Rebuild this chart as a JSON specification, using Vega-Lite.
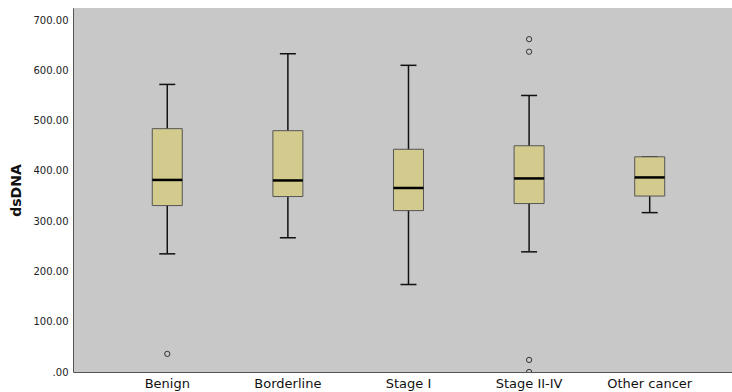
{
  "$schema": "https://vega.github.io/schema/vega-lite/v6.json",
  "width": 659,
  "height": 364,
  "autosize": {"type": "none"},
  "padding": {"left": 73, "top": 8, "right": 0, "bottom": 20},
  "background": "white",
  "config": {
    "view": {"fill": "#c8c8c8", "stroke": null},
    "font": "DejaVu Sans"
  },
  "datasets": {
    "stats": [
      {"group": "Benign", "low": 235, "q1": 331, "median": 382, "q3": 484, "high": 572},
      {"group": "Borderline", "low": 267, "q1": 349, "median": 381, "q3": 480, "high": 633},
      {"group": "Stage I", "low": 174, "q1": 321, "median": 366, "q3": 443, "high": 610},
      {"group": "Stage II-IV", "low": 239, "q1": 335, "median": 385, "q3": 450, "high": 550},
      {"group": "Other cancer", "low": 317, "q1": 350, "median": 387, "q3": 428, "high": 428}
    ],
    "outliers": [
      {"group": "Benign", "value": 36},
      {"group": "Stage II-IV", "value": 662},
      {"group": "Stage II-IV", "value": 637},
      {"group": "Stage II-IV", "value": 24},
      {"group": "Stage II-IV", "value": 0}
    ]
  },
  "encoding": {
    "x": {
      "field": "group",
      "type": "nominal",
      "sort": ["Benign", "Borderline", "Stage I", "Stage II-IV", "Other cancer"],
      "scale": {"type": "band", "paddingInner": 0, "paddingOuter": 0.232, "align": 0.607},
      "axis": {
        "title": null,
        "labelAngle": 0,
        "ticks": false,
        "labelFontSize": 13,
        "labelColor": "#111111",
        "labelPadding": 5,
        "domainColor": "#555555",
        "domainWidth": 1,
        "grid": false
      }
    }
  },
  "layer": [
    {
      "data": {"name": "stats"},
      "mark": {"type": "rule", "color": "#111111", "strokeWidth": 1.5, "opacity": 1},
      "encoding": {
        "y": {
          "field": "low",
          "type": "quantitative",
          "scale": {"domain": [0, 724], "nice": false, "zero": true},
          "axis": {
            "title": "dsDNA",
            "titleFontSize": 14,
            "titleFontWeight": "bold",
            "titleColor": "#111111",
            "titlePadding": 10,
            "values": [0, 100, 200, 300, 400, 500, 600, 700],
            "labelExpr": "datum.value == 0 ? '.00' : format(datum.value, '.2f')",
            "labelFontSize": 10,
            "labelColor": "#222222",
            "labelPadding": 5,
            "ticks": false,
            "grid": false,
            "domainColor": "#555555",
            "domainWidth": 1
          }
        },
        "y2": {"field": "high"}
      }
    },
    {
      "data": {"name": "stats"},
      "mark": {"type": "tick", "orient": "horizontal", "color": "#111111", "size": 16, "thickness": 1.5, "opacity": 1},
      "encoding": {"y": {"field": "low", "type": "quantitative"}}
    },
    {
      "data": {"name": "stats"},
      "mark": {"type": "tick", "orient": "horizontal", "color": "#111111", "size": 16, "thickness": 1.5, "opacity": 1},
      "encoding": {"y": {"field": "high", "type": "quantitative"}}
    },
    {
      "data": {"name": "stats"},
      "mark": {"type": "bar", "size": 30, "fill": "#d3cb8e", "stroke": "#555555", "strokeWidth": 1, "opacity": 1},
      "encoding": {
        "y": {"field": "q1", "type": "quantitative"},
        "y2": {"field": "q3"}
      }
    },
    {
      "data": {"name": "stats"},
      "mark": {"type": "tick", "orient": "horizontal", "color": "#000000", "size": 30, "thickness": 2.5, "opacity": 1},
      "encoding": {"y": {"field": "median", "type": "quantitative"}}
    },
    {
      "data": {"name": "outliers"},
      "mark": {"type": "point", "shape": "circle", "filled": false, "size": 28, "stroke": "#333333", "strokeWidth": 1, "opacity": 1, "clip": true},
      "encoding": {"y": {"field": "value", "type": "quantitative"}}
    }
  ]
}
